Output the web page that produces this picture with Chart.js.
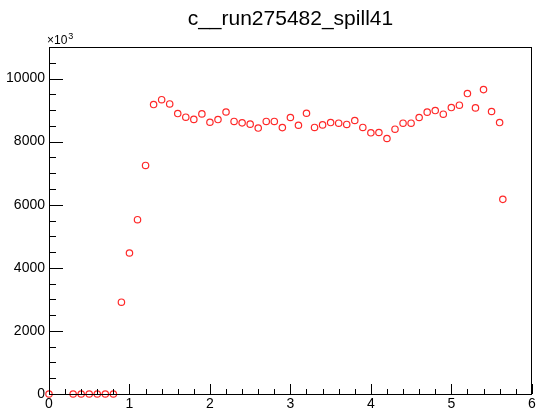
<!DOCTYPE html>
<html>
<head>
<meta charset="utf-8">
<script src="https://cdn.jsdelivr.net/npm/chart.js@4.4.1/dist/chart.umd.min.js"></script>
<style>
  html, body { margin: 0; padding: 0; background: #fff; }
  #wrap { width: 537px; height: 410px; position: relative; }
</style>
</head>
<body>
<div id="wrap"><canvas id="myChart" width="537" height="410"></canvas></div>
<script>
// data (y in units of 10^3)
var titleText = 'c__run275482_spill41';
var xValues = [0, 0.3, 0.4, 0.5, 0.6, 0.7, 0.8, 0.9, 1.0, 1.1,
  1.2, 1.3, 1.4, 1.5, 1.6, 1.7, 1.8, 1.9, 2.0, 2.1,
  2.2, 2.3, 2.4, 2.5, 2.6, 2.7, 2.8, 2.9, 3.0, 3.1,
  3.2, 3.3, 3.4, 3.5, 3.6, 3.7, 3.8, 3.9, 4.0, 4.1,
  4.2, 4.3, 4.4, 4.5, 4.6, 4.7, 4.8, 4.9, 5.0, 5.1,
  5.2, 5.3, 5.4, 5.5, 5.6, 5.64];
var yValues = [0, 0, 0, 0, 0, 0, 0, 2910, 4470, 5525,
  7245, 9175, 9330, 9195, 8890, 8775, 8705, 8880, 8615, 8700,
  8940, 8640, 8595, 8555, 8430, 8640, 8640, 8445, 8765, 8520,
  8900, 8450, 8530, 8605, 8585, 8545, 8670, 8450, 8280, 8290,
  8100, 8395, 8585, 8585, 8765, 8935, 8985, 8870, 9080, 9155,
  9525, 9070, 9650, 8955, 8605, 6170];
var yLabelValues = [0, 2000, 4000, 6000, 8000, 10000];
var xLabelValues = [0, 1, 2, 3, 4, 5, 6];

var points = xValues.map(function(x, i) { return { x: x, y: yValues[i] }; });

function isLabel(list, v) {
  var r = Math.round(v * 1000) / 1000;
  return list.indexOf(r) !== -1;
}

// ROOT style frame, inner ticks, title and exponent label
var rootStyle = {
  id: 'rootStyle',
  afterDraw: function(chart) {
    var ctx = chart.ctx;
    var a = chart.chartArea;
    var xs = chart.scales.x;
    var ys = chart.scales.y;
    ctx.save();
    ctx.strokeStyle = '#000';
    ctx.lineWidth = 1;
    ctx.strokeRect(Math.round(a.left) + 0.5, Math.round(a.top) + 0.5,
      Math.round(a.right - a.left) - 1, Math.round(a.bottom - a.top));
    ctx.beginPath();
    xs.ticks.forEach(function(t) {
      var px = Math.round(xs.getPixelForValue(t.value)) + 0.5;
      var len = isLabel(xLabelValues, t.value) ? 10 : 5;
      ctx.moveTo(px, a.bottom);
      ctx.lineTo(px, a.bottom - len);
    });
    ys.ticks.forEach(function(t) {
      var py = Math.round(ys.getPixelForValue(t.value)) + 0.5;
      var len = isLabel(yLabelValues, t.value) ? 14 : 7;
      ctx.moveTo(a.left, py);
      ctx.lineTo(a.left + len, py);
    });
    ctx.stroke();

    ctx.fillStyle = '#000';
    ctx.textBaseline = 'alphabetic';
    ctx.textAlign = 'center';
    ctx.font = '21px "Liberation Sans", Arial, sans-serif';
    ctx.fillText(titleText, (a.left + a.right) / 2, 25);

    ctx.textAlign = 'left';
    ctx.font = '12px "Liberation Sans", Arial, sans-serif';
    ctx.fillText('\u00d710', a.left - 2, 44);
    var w = ctx.measureText('\u00d710').width;
    ctx.font = '9px "Liberation Sans", Arial, sans-serif';
    ctx.fillText('3', a.left - 1 + w, 39);
    ctx.restore();
  }
};

var ctx = document.getElementById('myChart').getContext('2d');
var chart = new Chart(ctx, {
  type: 'scatter',
  data: {
    datasets: [{
      data: points,
      pointStyle: 'circle',
      pointRadius: 3.2,
      pointBorderWidth: 1.2,
      borderColor: 'rgb(255, 40, 40)',
      backgroundColor: 'rgba(0,0,0,0)',
      clip: false
    }]
  },
  options: {
    responsive: false,
    animation: false,
    layout: { padding: { left: 0, right: 3, top: 47, bottom: 0 } },
    plugins: {
      legend: { display: false },
      tooltip: { enabled: false }
    },
    scales: {
      x: {
        type: 'linear',
        min: 0,
        max: 6,
        grid: { display: false, drawTicks: false },
        border: { display: false },
        ticks: {
          stepSize: 0.2,
          padding: 2,
          maxRotation: 0,
          autoSkip: false,
          color: '#000',
          font: { family: '"Liberation Sans", Arial, sans-serif', size: 14 },
          callback: function(v) { return isLabel(xLabelValues, v) ? String(Math.round(v)) : ''; }
        },
        afterFit: function(scale) {
          scale.height = 16;
          scale.paddingLeft = 0;
          scale.paddingRight = 0;
        }
      },
      y: {
        type: 'linear',
        min: 0,
        max: 11000,
        grid: { display: false, drawTicks: false },
        border: { display: false },
        ticks: {
          stepSize: 500,
          padding: 4,
          autoSkip: false,
          color: '#000',
          font: { family: '"Liberation Sans", Arial, sans-serif', size: 14 },
          callback: function(v) { return isLabel(yLabelValues, v) ? String(v) : ''; }
        },
        afterFit: function(scale) {
          scale.width = 49;
          scale.paddingTop = 0;
          scale.paddingBottom = 0;
        }
      }
    }
  },
  plugins: [rootStyle]
});
</script>
</body>
</html>
